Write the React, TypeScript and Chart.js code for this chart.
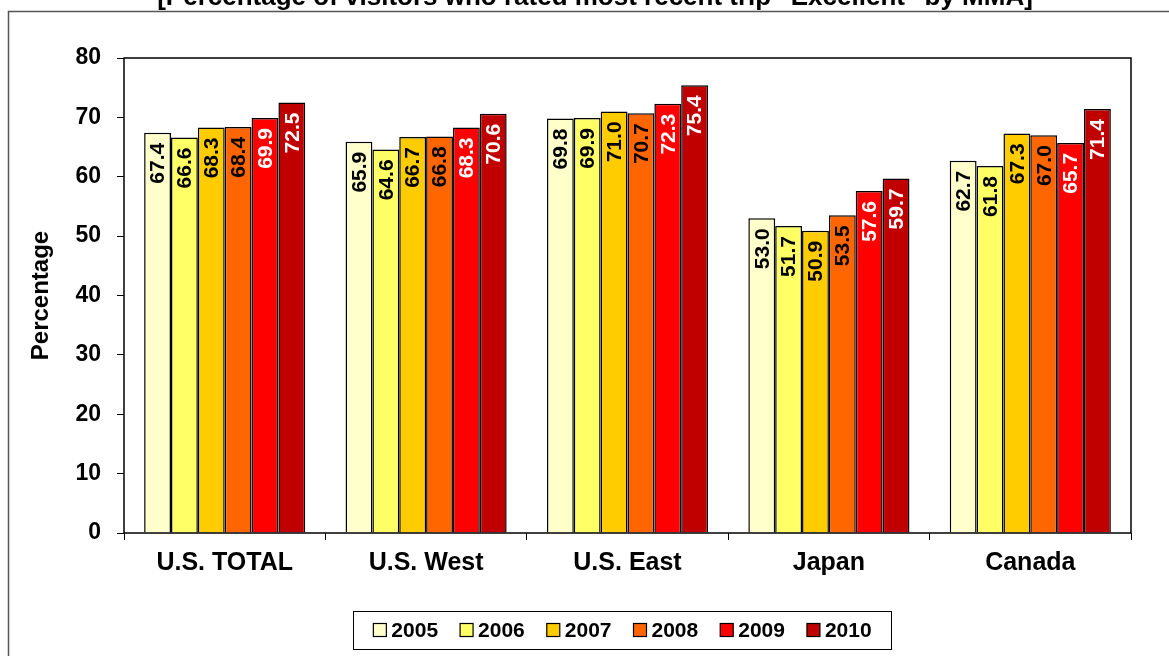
import React, { useEffect, useRef } from "react";
import { Chart, registerables } from "chart.js";

Chart.register(...registerables);

const categories = ["U.S. TOTAL", "U.S. West", "U.S. East", "Japan", "Canada"];
const years = ["2005", "2006", "2007", "2008", "2009", "2010"];
const v2005 = [67.4, 65.9, 69.8, 53.0, 62.7];
const v2006 = [66.6, 64.6, 69.9, 51.7, 61.8];
const v2007 = [68.3, 66.7, 71.0, 50.9, 67.3];
const v2008 = [68.4, 66.8, 70.7, 53.5, 67.0];
const v2009 = [69.9, 68.3, 72.3, 57.6, 65.7];
const v2010 = [72.5, 70.6, 75.4, 59.7, 71.4];
const seriesValues = [v2005, v2006, v2007, v2008, v2009, v2010];
const colors = ["#FFFFCC", "#FFFF66", "#FFCC00", "#FF6600", "#FF0000", "#C00000"];
const labelColors = ["#000", "#000", "#000", "#000", "#fff", "#fff"];
const titleText = '[Percentage of visitors who rated most recent trip "Excellent" by MMA]';
const yTicks = [0, 10, 20, 30, 40, 50, 60, 70, 80];

const FONT = '"Liberation Sans", Arial, sans-serif';

const decorPlugin = {
  id: "decor",
  beforeDraw(chart: any) {
    const ctx = chart.ctx;
    ctx.save();
    ctx.fillStyle = "#fff";
    ctx.fillRect(0, 0, chart.width, chart.height);
    ctx.strokeStyle = "#555";
    ctx.lineWidth = 1.5;
    ctx.strokeRect(8.5, 11.5, 1300, 800);
    ctx.fillStyle = "#000";
    ctx.font = `bold 26px ${FONT}`;
    ctx.textAlign = "center";
    ctx.textBaseline = "alphabetic";
    ctx.fillText(titleText, 595, 5);
    ctx.restore();
  },
  afterDatasetsDraw(chart: any) {
    const ctx = chart.ctx;
    const area = chart.chartArea;
    ctx.save();
    // value labels
    chart.data.datasets.forEach((ds: any, di: number) => {
      const meta = chart.getDatasetMeta(di);
      meta.data.forEach((el: any, i: number) => {
        const txt = Number(ds.data[i]).toFixed(1);
        ctx.save();
        ctx.translate(el.x + 1, el.y + 10);
        ctx.rotate(-Math.PI / 2);
        ctx.font = `bold 21px ${FONT}`;
        ctx.fillStyle = labelColors[di];
        ctx.textAlign = "right";
        ctx.textBaseline = "middle";
        ctx.fillText(txt, 0, 0);
        ctx.restore();
      });
    });
    // plot border
    ctx.strokeStyle = "#000";
    ctx.lineWidth = 1.5;
    ctx.strokeRect(area.left, area.top, area.right - area.left, area.bottom - area.top);
    // legend
    ctx.font = `bold 21px ${FONT}`;
    const sq = 13;
    const gapSq = 5;
    const gapItem = 22;
    const widths = years.map((y) => sq + gapSq + ctx.measureText(y).width);
    const total = widths.reduce((a, b) => a + b, 0) + gapItem * (years.length - 1);
    const cx = 622.5;
    const cy = 630;
    const boxW = total + 40;
    ctx.lineWidth = 1;
    ctx.strokeStyle = "#000";
    ctx.strokeRect(Math.round(cx - boxW / 2) + 0.5, 611.5, Math.round(boxW), 38);
    let x = cx - total / 2;
    years.forEach((y, i) => {
      ctx.fillStyle = colors[i];
      ctx.fillRect(x, cy - sq / 2, sq, sq);
      ctx.lineWidth = 1.2;
      ctx.strokeStyle = "#000";
      ctx.strokeRect(x, cy - sq / 2, sq, sq);
      ctx.fillStyle = "#000";
      ctx.textAlign = "left";
      ctx.textBaseline = "middle";
      ctx.fillText(y, x + sq + gapSq, cy + 1);
      x += widths[i] + gapItem;
    });
    ctx.restore();
  },
};

export default function App() {
  const ref = useRef<HTMLCanvasElement | null>(null);
  useEffect(() => {
    if (!ref.current) return;
    Chart.defaults.font.family = FONT;
    const chart = new Chart(ref.current, {
      type: "bar",
      data: {
        labels: categories,
        datasets: years.map((y, i) => ({
          label: y,
          data: seriesValues[i],
          backgroundColor: colors[i],
          borderColor: "#000",
          borderWidth: 1.5,
          categoryPercentage: 0.8,
          barPercentage: 1.0,
        })),
      },
      options: {
        responsive: false,
        animation: false,
        layout: { padding: { left: 0, top: 58, right: 38, bottom: 0 } },
        plugins: {
          legend: { display: false },
          title: { display: false },
          tooltip: { enabled: false },
        },
        scales: {
          x: {
            offset: true,
            border: { display: false },
            grid: {
              offset: true,
              drawOnChartArea: false,
              drawTicks: true,
              tickLength: 7,
              color: "#000",
              lineWidth: 1,
            },
            ticks: {
              color: "#000",
              font: { size: 25, weight: "bold", family: FONT },
              padding: 8,
              maxRotation: 0,
              autoSkip: false,
            },
            afterFit(scale: any) {
              scale.height = 123;
            },
          },
          y: {
            min: 0,
            max: 80,
            border: { display: false },
            afterBuildTicks(scale: any) {
              scale.ticks = yTicks.map((v) => ({ value: v }));
            },
            grid: {
              drawOnChartArea: false,
              drawTicks: true,
              tickLength: 7,
              color: "#000",
              lineWidth: 1,
            },
            ticks: {
              color: "#000",
              font: { size: 23, weight: "bold", family: FONT },
              padding: 16,
            },
            title: {
              display: true,
              text: "Percentage",
              color: "#000",
              font: { size: 24, weight: "bold", family: FONT },
              padding: { top: 27, bottom: 0 },
            },
            afterFit(scale: any) {
              scale.width = 124;
            },
          },
        },
      },
      plugins: [decorPlugin],
    } as any);
    return () => chart.destroy();
  }, []);
  return (
    <div style={{ position: "fixed", left: 0, top: 0, width: 1169, height: 656, background: "#fff" }}>
      <canvas ref={ref} width={1169} height={656} style={{ width: 1169, height: 656, display: "block" }} />
    </div>
  );
}
